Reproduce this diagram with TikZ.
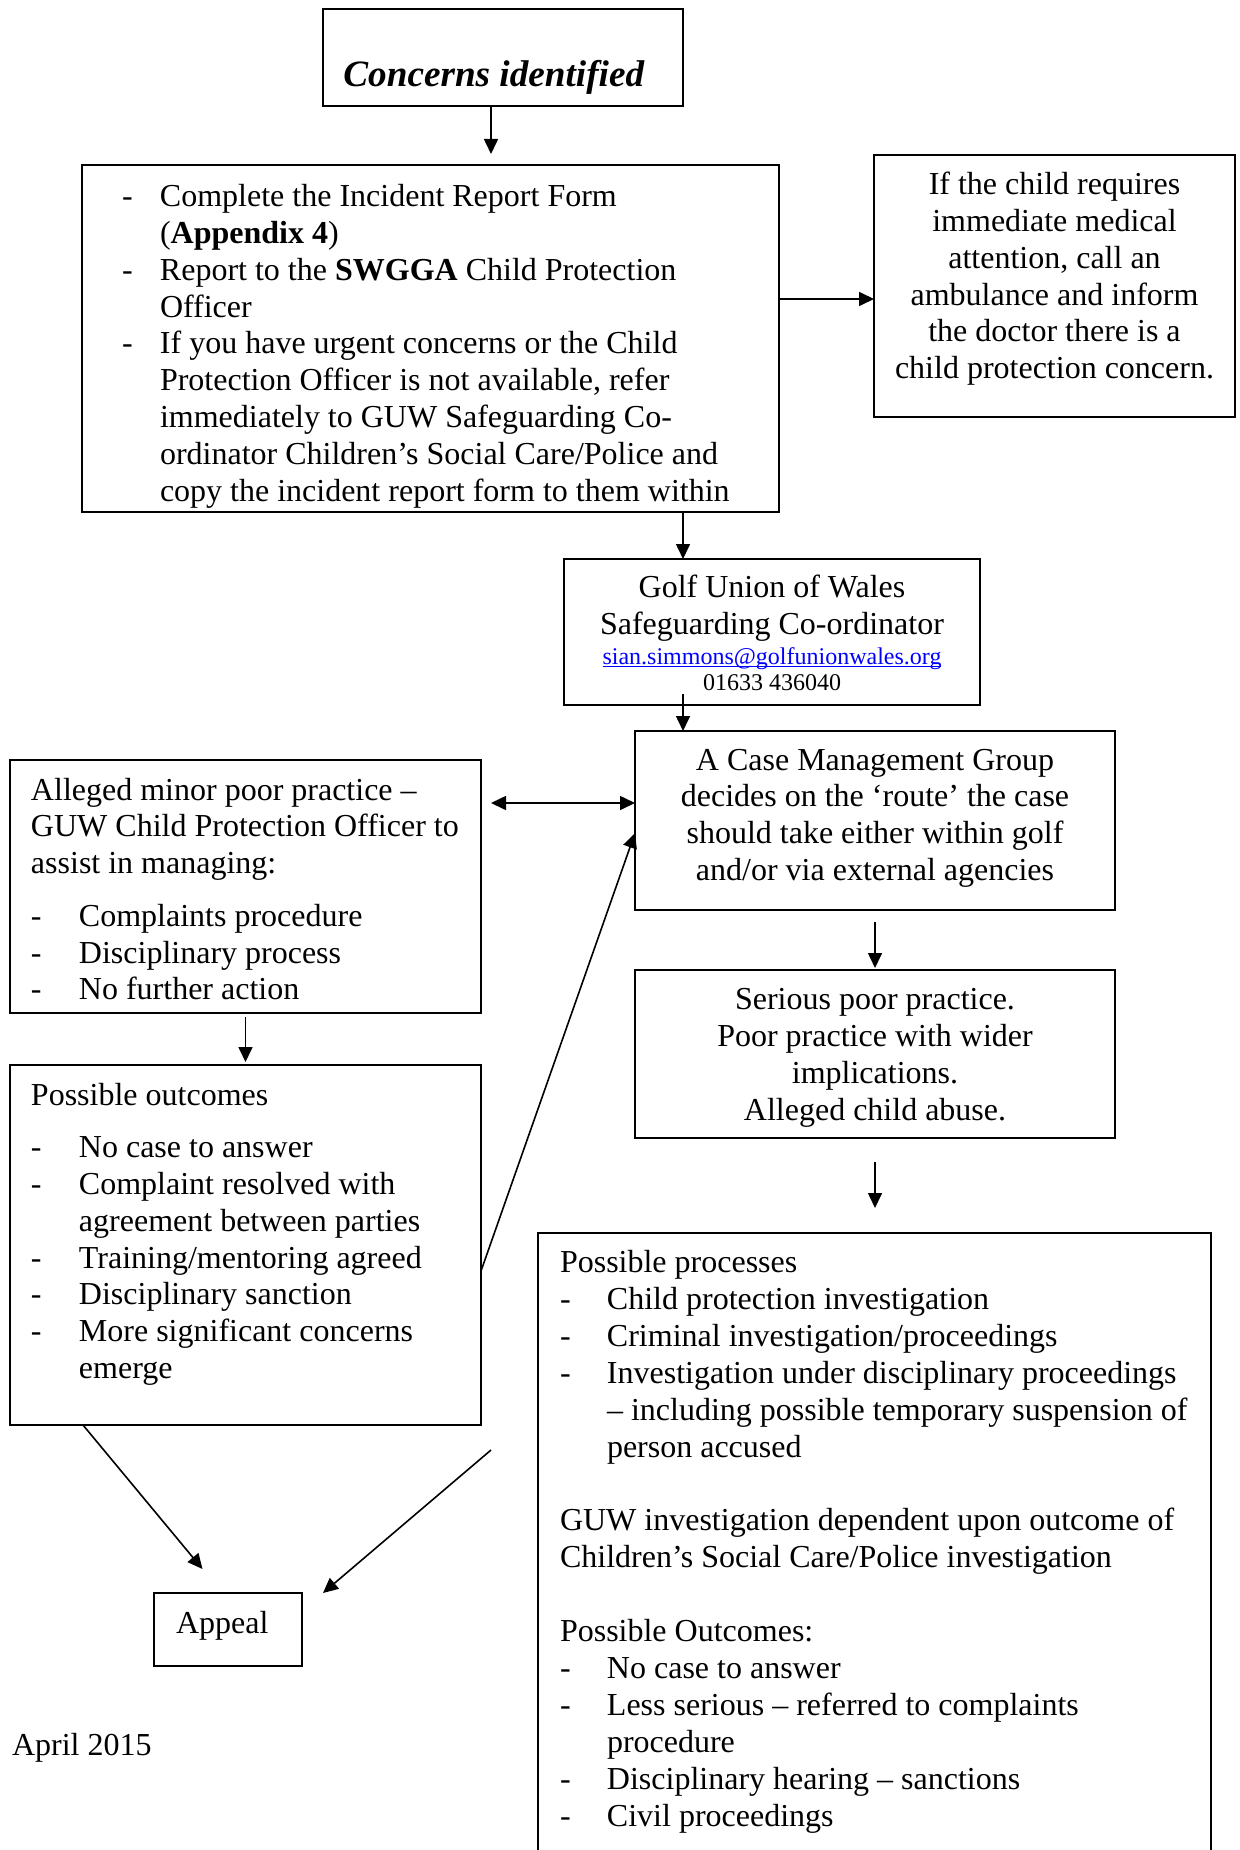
\documentclass[tikz,border=0pt]{standalone}
\usepackage{fontspec}
\setmainfont{Liberation Serif}
\usetikzlibrary{arrows.meta,calc}
\newcommand{\dl}[1]{\makebox[#1][l]{-}}
\newsavebox{\ulbox}
\newcommand{\myul}[1]{\sbox{\ulbox}{#1}\rlap{\rule[-1.6pt]{\wd\ulbox}{0.55pt}}\usebox{\ulbox}}
\begin{document}
\begin{tikzpicture}[x=0.5pt,y=-0.5pt,
  boxnode/.style={draw, line width=1pt, inner sep=0pt, outer sep=0pt, anchor=north west},
  txt/.style={inner sep=0pt, outer sep=0pt, font=\fontsize{16pt}{18.45pt}\selectfont},
  arr/.style={line width=0.8pt, -{Triangle[length=7.5pt,width=7pt]}},
  dblarr/.style={line width=0.8pt, {Triangle[length=7.5pt,width=7pt]}-{Triangle[length=7.5pt,width=7pt]}}]
\clip (0,0) rectangle (1240,1850);
\fill[white] (0,0) rectangle (1240,1850);

% boxes
\node[boxnode, minimum width=180pt, minimum height=48.5pt] (concerns) at (323,9) {};
\node[boxnode, minimum width=348.5pt, minimum height=173.5pt] (incident) at (82,165) {};
\node[boxnode, minimum width=180.5pt, minimum height=131pt] (medical) at (874,155) {};
\node[boxnode, minimum width=208pt, minimum height=73pt] (guw) at (564,559) {};
\node[boxnode, minimum width=240pt, minimum height=89.5pt] (cmg) at (635,731) {};
\node[boxnode, minimum width=235.5pt, minimum height=126.5pt] (alleged) at (10,760) {};
\node[boxnode, minimum width=240pt, minimum height=84pt] (serious) at (635,970) {};
\node[boxnode, minimum width=235.5pt, minimum height=180pt] (outcomes) at (10,1065) {};
\node[boxnode, minimum width=336.5pt, minimum height=318.5pt] (processes) at (538,1233) {};
\node[boxnode, minimum width=74pt, minimum height=36.5pt] (appeal) at (154,1593) {};

% texts
\node[inner sep=0pt, anchor=base west, font=\fontsize{18.6pt}{22pt}\selectfont\bfseries\itshape] (tconcerns) at (343,87) {Concerns identified};

\begin{scope}
\clip (incident.north west) rectangle (incident.south east);
\node[txt, align=left, anchor=north west] (tincident) at (122,180.5) {\strut\dl{19pt}Complete the Incident Report Form\\
\hspace*{19pt}(\textbf{Appendix 4})\\
\dl{19pt}Report to the \textbf{SWGGA} Child Protection\\
\hspace*{19pt}Officer\\
\dl{19pt}If you have urgent concerns or the Child\\
\hspace*{19pt}Protection Officer is not available, refer\\
\hspace*{19pt}immediately to GUW Safeguarding Co-\\
\hspace*{19pt}ordinator Children’s Social Care/Police and\\
\hspace*{19pt}copy the incident report form to them within};
\end{scope}

\node[txt, align=center, anchor=north] (tmedical) at (1054.5,168.5) {\strut If the child requires\\
immediate medical\\
attention, call an\\
ambulance and inform\\
the doctor there is a\\
child protection concern.};

\node[txt, align=center, anchor=north] (tguw) at (772,572) {\strut Golf Union of Wales\\
Safeguarding Co-ordinator};
\node[inner sep=0pt, anchor=base, font=\fontsize{12pt}{14pt}\selectfont] (temail) at (772,664) {\textcolor{blue}{\myul{sian.simmons@golfunionwales.org}}};
\node[inner sep=0pt, anchor=base, font=\fontsize{12pt}{14pt}\selectfont] (tphone) at (772,690) {01633 436040};

\node[txt, align=center, anchor=north] (tcmg) at (875,744.2) {\strut A Case Management Group\\
decides on the ‘route’ the case\\
should take either within golf\\
and/or via external agencies};

\node[txt, align=left, anchor=north west] (talleged) at (31,774.2) {\strut Alleged minor poor practice --\\
GUW Child Protection Officer to\\
assist in managing:\\[7.7pt]
\dl{24pt}Complaints procedure\\
\dl{24pt}Disciplinary process\\
\dl{24pt}No further action};

\node[txt, align=center, anchor=north] (tserious) at (875,984) {\strut Serious poor practice.\\
Poor practice with wider\\
implications.\\
Alleged child abuse.};

\node[txt, align=left, anchor=north west] (toutcomes) at (31,1079.2) {\strut Possible outcomes\\[7.7pt]
\dl{24pt}No case to answer\\
\dl{24pt}Complaint resolved with\\
\hspace*{24pt}agreement between parties\\
\dl{24pt}Training/mentoring agreed\\
\dl{24pt}Disciplinary sanction\\
\dl{24pt}More significant concerns\\
\hspace*{24pt}emerge};

\node[txt, align=left, anchor=north west] (tprocesses) at (560,1246.8) {\strut Possible processes\\
\dl{23.5pt}Child protection investigation\\
\dl{23.5pt}Criminal investigation/proceedings\\
\dl{23.5pt}Investigation under disciplinary proceedings\\
\hspace*{23.5pt}-- including possible temporary suspension of\\
\hspace*{23.5pt}person accused\\[18.45pt]
GUW investigation dependent upon outcome of\\
Children’s Social Care/Police investigation\\[18.45pt]
Possible Outcomes:\\
\dl{23.5pt}No case to answer\\
\dl{23.5pt}Less serious -- referred to complaints\\
\hspace*{23.5pt}procedure\\
\dl{23.5pt}Disciplinary hearing -- sanctions\\
\dl{23.5pt}Civil proceedings};

\node[txt, anchor=base west] (tappeal) at (176,1633) {Appeal};
\node[txt, anchor=base west] (tdate) at (12,1755) {April 2015};

% helper coordinates
\coordinate (c491) at (491,0);
\coordinate (c683) at (683,0);
\coordinate (c299) at (0,299);
\coordinate (c803) at (0,803);
\coordinate (free) at (491,1450);

% connectors
\draw[arr, shorten >=5.5pt] (concerns.south -| c491) -- (incident.north -| c491);
\draw[arr] (incident.east |- c299) -- (medical.west |- c299);
\draw[arr] (incident.south -| c683) -- (guw.north -| c683);
\draw[arr, shorten <=-5.5pt] (guw.south -| c683) -- (cmg.north -| c683);
\draw[dblarr, shorten <=5pt] (alleged.east |- c803) -- (cmg.west |- c803);
\draw[arr] ($(outcomes.north east)+(0,206)$) -- ($(cmg.north west)+(0,102)$);
\draw[arr, shorten <=6pt, shorten >=1pt] (cmg.south) -- (serious.north);
\draw[arr, shorten <=12pt, shorten >=12.5pt] (serious.south) -- (processes.north -| serious.south);
\draw[arr, shorten <=2pt, shorten >=1.5pt] (alleged.south) -- (outcomes.north);
\draw[arr] ($(outcomes.south west)+(73,0)$) -- ($(appeal.north west)+(48.5,-24)$);
\draw[arr] (free) -- ($(appeal.north east)+(21,0)$);
\end{tikzpicture}
\end{document}
